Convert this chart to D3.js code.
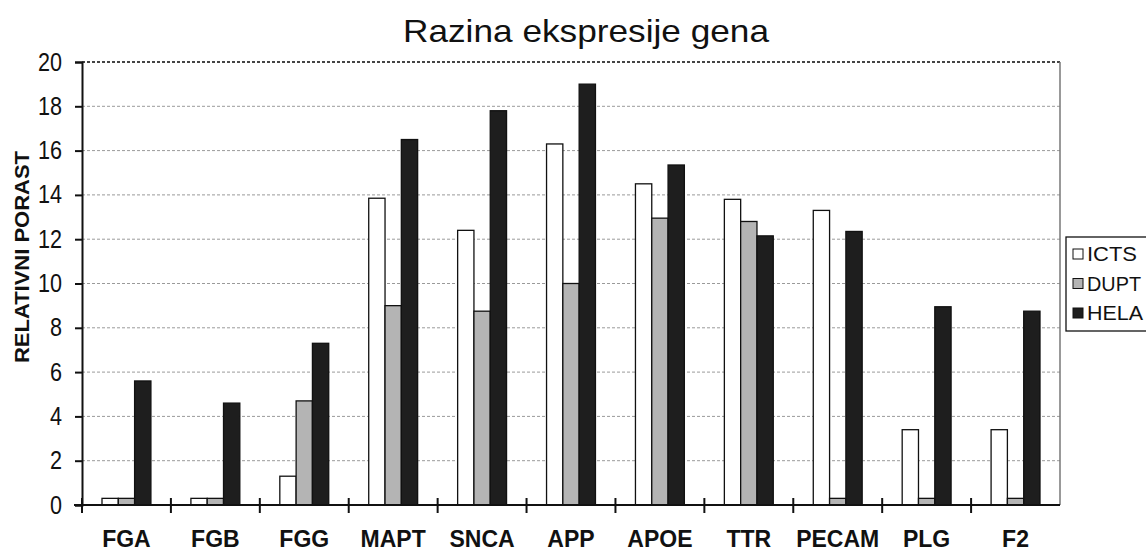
<!DOCTYPE html>
<html>
<head>
<meta charset="utf-8">
<script src="https://cdn.jsdelivr.net/npm/d3@7"></script>
<style>
  body { margin: 0; background: #fff; }
  text { font-family: "Liberation Sans", Arial, sans-serif; fill: #111; }
</style>
</head>
<body>
<svg id="chart" width="1146" height="552"></svg>
<script>
// Data
// ----
var genes = ["FGA", "FGB", "FGG", "MAPT", "SNCA", "APP", "APOE", "TTR", "PECAM", "PLG", "F2"];
var seriesNames = ["ICTS", "DUPT", "HELA"];
var icts = [0.3, 0.3, 1.3, 13.85, 12.4, 16.3, 14.5, 13.8, 13.3, 3.4, 3.4];
var dupt = [0.3, 0.3, 4.7, 9.0, 8.75, 10.0, 12.95, 12.8, 0.3, 0.3, 0.3];
var hela = [5.6, 4.6, 7.3, 16.5, 17.8, 19.0, 15.35, 12.15, 12.35, 8.95, 8.75];
var yTicks = [0, 2, 4, 6, 8, 10, 12, 14, 16, 18, 20];
var colors = ["#ffffff", "#b4b4b4", "#1e1e1e"];

var svg = d3.select("#chart");
var plot = {left: 82, right: 1060, top: 62, bottom: 505};

// Scales
// ------
var x = d3.scaleBand().domain(genes).range([plot.left, plot.right]).padding(0);
var xs = d3.scaleBand().domain(seriesNames).range([20, x.bandwidth() - 20]).padding(0);
var y = d3.scaleLinear().domain([0, 20]).range([plot.bottom, plot.top]);

var rows = genes.map(function (g, i) {
  return {gene: g, values: [icts[i], dupt[i], hela[i]]};
});

// Grid
// ----
svg.append("g").selectAll("line")
  .data(yTicks.filter(function (d) { return d > 0; }))
  .enter().append("line")
  .attr("x1", plot.left).attr("x2", plot.right)
  .attr("y1", function (d) { return y(d); })
  .attr("y2", function (d) { return y(d); })
  .attr("stroke", function (d) { return d === 20 ? "#444" : "#9a9a9a"; })
  .attr("stroke-width", function (d) { return d === 20 ? 2 : 1; })
  .attr("stroke-dasharray", "3,2");

// right border
svg.append("line")
  .attr("x1", plot.right).attr("x2", plot.right)
  .attr("y1", plot.top).attr("y2", plot.bottom)
  .attr("stroke", "#777").attr("stroke-width", 1.5);

// Bars
// ----
var groups = svg.append("g").selectAll(".group")
  .data(rows).enter().append("g")
  .attr("class", "group")
  .attr("transform", function (d) { return "translate(" + x(d.gene) + ",0)"; });

groups.selectAll("rect")
  .data(function (d) { return d.values.map(function (v, i) { return {s: seriesNames[i], v: v, i: i}; }); })
  .enter().append("rect")
  .attr("x", function (d) { return xs(d.s); })
  .attr("width", xs.bandwidth())
  .attr("y", function (d) { return y(d.v); })
  .attr("height", function (d) { return y(0) - y(d.v); })
  .attr("fill", function (d) { return colors[d.i]; })
  .attr("stroke", "#111")
  .attr("stroke-width", 1.3);

// Axes
// ----
var yAxis = d3.axisLeft(y).tickValues(yTicks).tickSize(7).tickPadding(13);
var gy = svg.append("g").attr("transform", "translate(" + plot.left + ",0)").call(yAxis);
gy.select(".domain").attr("stroke", "#111").attr("stroke-width", 2);
gy.selectAll(".tick line").attr("stroke", "#111").attr("stroke-width", 2);
gy.selectAll("text").style("font-size", "25px").attr("fill", "#111")
  .attr("lengthAdjust", "spacingAndGlyphs")
  .attr("textLength", function (d) { return d >= 10 ? 24 : 12; });

var gx = svg.append("g").attr("transform", "translate(0," + plot.bottom + ")");
gx.append("line").attr("x1", plot.left - 8).attr("x2", plot.right)
  .attr("stroke", "#111").attr("stroke-width", 2);
gx.selectAll(".xtick")
  .data(genes).enter().append("line")
  .attr("x1", function (d) { return x(d); })
  .attr("x2", function (d) { return x(d); })
  .attr("y1", -7).attr("y2", 8)
  .attr("stroke", "#111").attr("stroke-width", 2);
gx.selectAll(".xlabel")
  .data(genes).enter().append("text")
  .attr("x", function (d) { return x(d) + x.bandwidth() / 2; })
  .attr("y", 42)
  .attr("text-anchor", "middle")
  .style("font-size", "23px").style("font-weight", "bold")
  .text(function (d) { return d; });

// Titles
// ------
svg.append("text")
  .attr("x", 586).attr("y", 42)
  .attr("text-anchor", "middle")
  .attr("lengthAdjust", "spacingAndGlyphs")
  .attr("textLength", 366)
  .style("font-size", "32px")
  .text("Razina ekspresije gena");

svg.append("text")
  .attr("transform", "translate(29,257) rotate(-90)")
  .attr("text-anchor", "middle")
  .attr("lengthAdjust", "spacingAndGlyphs")
  .attr("textLength", 212)
  .style("font-size", "21px").style("font-weight", "bold")
  .text("RELATIVNI PORAST");

// Legend
// ------
var legendWidths = [50, 54, 56];
var legend = svg.append("g").attr("transform", "translate(1066,237)");
legend.append("rect")
  .attr("width", 100).attr("height", 94)
  .attr("fill", "#fff").attr("stroke", "#111").attr("stroke-width", 1.3);
var items = legend.selectAll(".item").data(seriesNames).enter().append("g")
  .attr("transform", function (d, i) { return "translate(7," + (12 + i * 29.5) + ")"; });
items.append("rect")
  .attr("width", 10).attr("height", 10)
  .attr("fill", function (d, i) { return colors[i]; })
  .attr("stroke", "#111").attr("stroke-width", 1);
items.append("text")
  .attr("x", 14).attr("y", 12)
  .style("font-size", "21px")
  .attr("lengthAdjust", "spacingAndGlyphs")
  .attr("textLength", function (d, i) { return legendWidths[i]; })
  .text(function (d) { return d; });
</script>
</body>
</html>
